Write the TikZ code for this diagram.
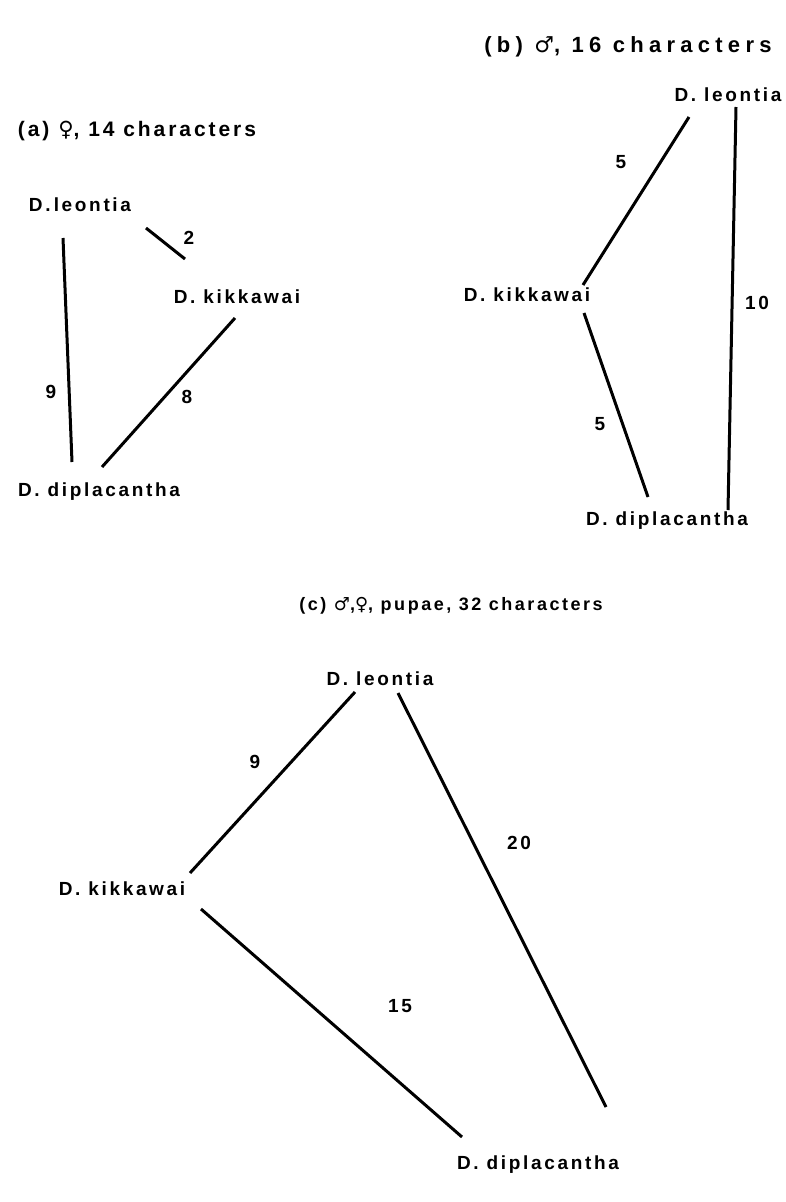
\documentclass[tikz,border=0pt]{standalone}
\usepackage{fontspec}
\setmainfont{Liberation Sans}[LetterSpace=14]
\newfontfamily\symfont{DejaVu Sans}
\usetikzlibrary{positioning}

\tikzset{
  species/.style={inner sep=0pt, font=\bfseries\fontsize{19}{23}\selectfont},
  caption/.style={inner sep=0pt, font=\bfseries\fontsize{19}{23}\selectfont},
  weight/.style={inner sep=0pt, font=\bfseries\fontsize{19}{23}\selectfont},
  branch/.style={line width=3pt},
}
\newcommand{\fem}{{\symfont\char"2640}}
\newcommand{\mal}{{\symfont\char"2642}}

\begin{document}
\begin{tikzpicture}[x=1pt,y=-1pt]
  \useasboundingbox (0,0) rectangle (785,1202);

  %% (a) female
  \node[caption, font=\bfseries\fontsize{21}{25}\selectfont] (titleA) at (137,131) {(a) \fem, 14 characters};
  \node[species] (leoA) at (80,205) {D.\,leontia};
  \node[species] (kikA) at (237,297) {D. kikkawai};
  \node[species] (dipA) at (99,492) {D. diplacantha};
  \coordinate (leoAs) at (63,238);
  \coordinate (dipAn) at (72,462);
  \coordinate (leoAe) at (146,228);
  \coordinate (kikAw) at (185,259);
  \coordinate (kikAs) at (235,318);
  \coordinate (dipAe) at (102,467);
  \draw[branch] (leoAs) -- (dipAn);
  \draw[branch] (leoAe) -- (kikAw);
  \draw[branch] (kikAs) -- (dipAe);
  \node[weight] (wA1) at (51,392) {9};
  \node[weight] (wA2) at (189,238) {2};
  \node[weight] (wA3) at (187,397) {8};

  %% (b) male
  \node[caption, font=\bfseries\fontsize{22}{26}\selectfont\addfontfeature{LetterSpace=24}] (titleB) at (628,47) {(b) \mal, 16 characters};
  \node[species] (leoB) at (728,95) {D. leontia};
  \node[species] (kikB) at (527,295) {D. kikkawai};
  \node[species] (dipB) at (667,521) {D. diplacantha};
  \coordinate (leoBs) at (736,107);
  \coordinate (dipBn) at (728,510);
  \coordinate (leoBw) at (689,117);
  \coordinate (kikBn) at (583,285);
  \coordinate (kikBs) at (584,313);
  \coordinate (dipBw) at (648,497);
  \draw[branch] (leoBs) -- (dipBn);
  \draw[branch] (leoBw) -- (kikBn);
  \draw[branch] (kikBs) -- (dipBw);
  \node[weight] (wB1) at (757,303) {10};
  \node[weight] (wB2) at (621,162) {5};
  \node[weight] (wB3) at (600,424) {5};

  %% (c) male, female, pupae
  \node[caption, font=\bfseries\fontsize{18}{22}\selectfont] (titleC) at (451,606) {(c) \mal,\fem, pupae, 32 characters};
  \node[species] (leoC) at (380,679) {D. leontia};
  \node[species] (kikC) at (122,889) {D. kikkawai};
  \node[species] (dipC) at (538,1165) {D. diplacantha};
  \coordinate (leoCw) at (355,692);
  \coordinate (kikCn) at (190,873);
  \coordinate (leoCe) at (398,693);
  \coordinate (dipCn) at (606,1107);
  \coordinate (kikCs) at (201,909);
  \coordinate (dipCw) at (462,1137);
  \draw[branch] (leoCw) -- (kikCn);
  \draw[branch] (leoCe) -- (dipCn);
  \draw[branch] (kikCs) -- (dipCw);
  \node[weight] (wC1) at (255,762) {9};
  \node[weight] (wC2) at (519,843) {20};
  \node[weight] (wC3) at (400,1006) {15};
\end{tikzpicture}
\end{document}
